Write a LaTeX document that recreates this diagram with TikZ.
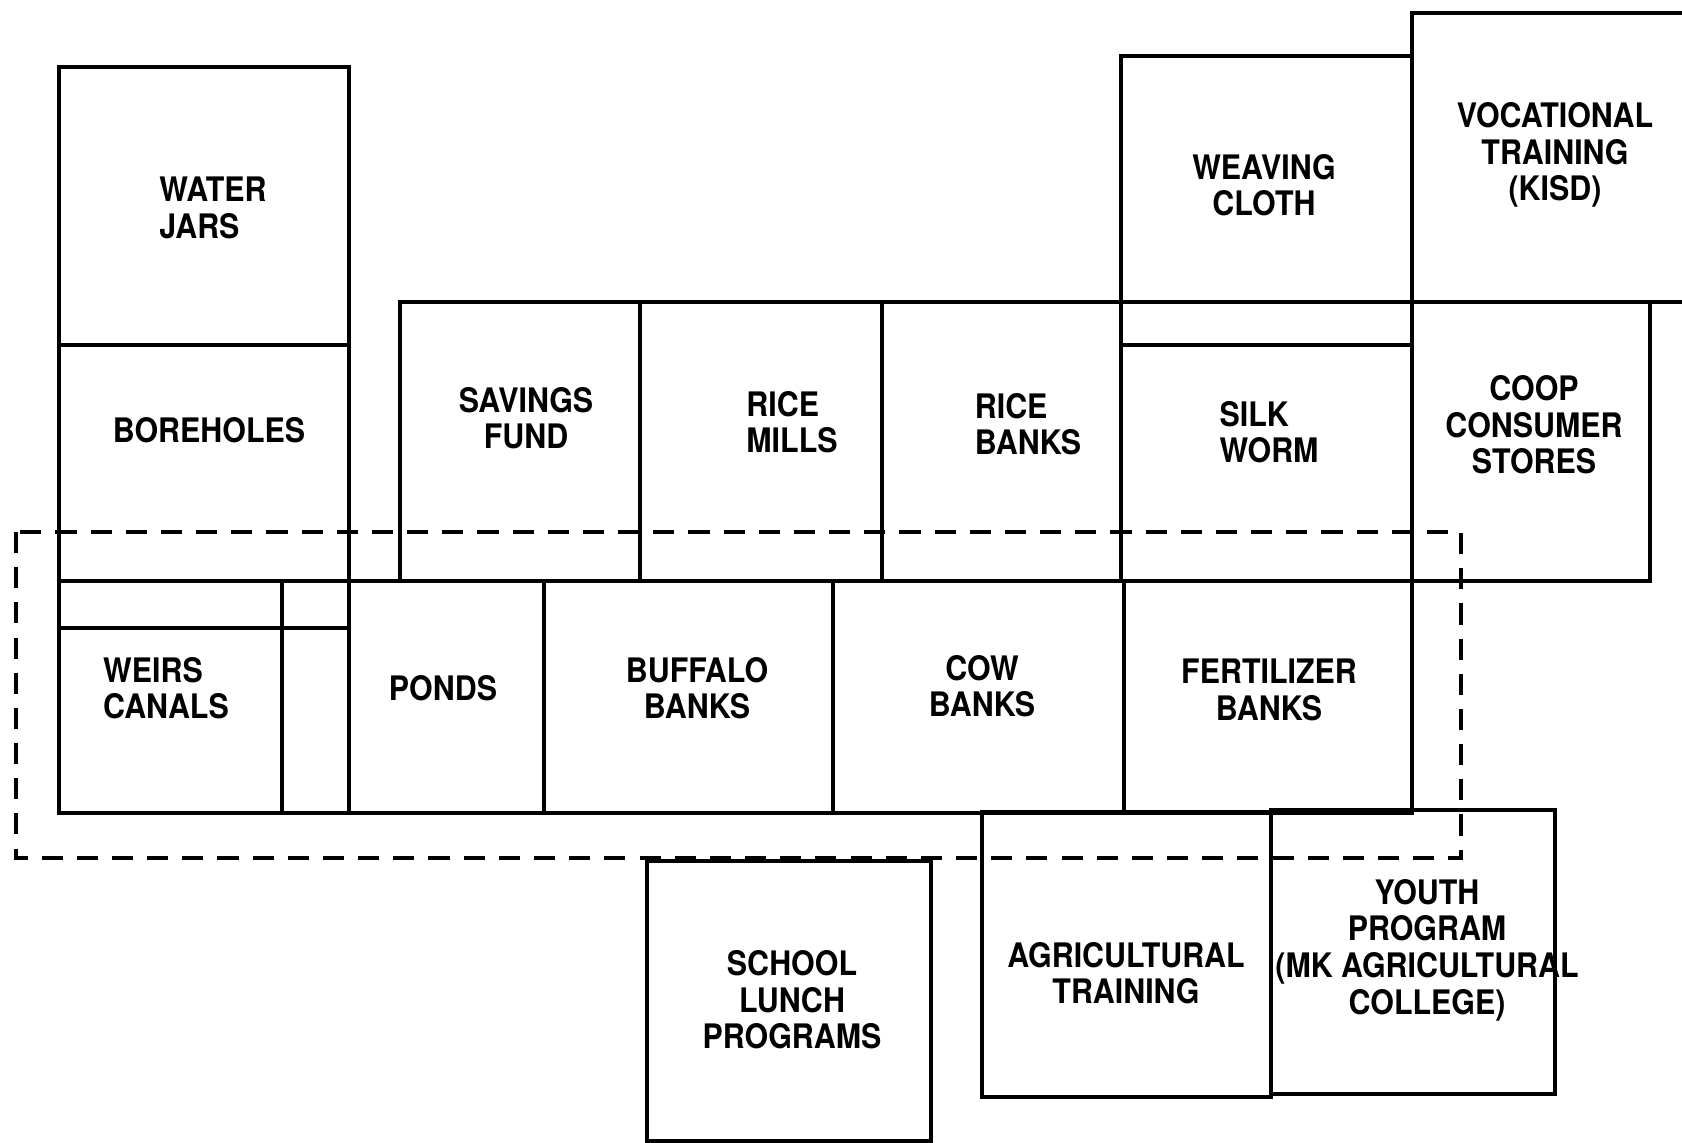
\documentclass[tikz,border=0pt]{standalone}
\usepackage{fontspec}
\setmainfont[FakeStretch=0.9]{TeX Gyre Heros}
\tikzset{every picture/.style={line width=0.9pt}}

\begin{document}
\begin{tikzpicture}[x=0.01cm, y=-0.01cm, every node/.style={font=\fontsize{9.6}{10.4}\selectfont\bfseries, align=center, inner sep=0pt}]
        \useasboundingbox (0,0) rectangle (1682,1142);
        % left column
        \draw (59,67) rectangle (349,345);
        \draw (59,345) rectangle (349,581);
        \draw (59,581) rectangle (349,813);
        \draw (59,628) -- (349,628);
        \draw (282,581) -- (282,813);
        % upper row
        \draw (400,302) rectangle (640,581);
        \draw (640,302) rectangle (882,581);
        \draw (882,302) rectangle (1121,581);
        \draw (1121,56) rectangle (1412,302);
        \draw (1121,302) rectangle (1412,581);
        \draw (1121,345) -- (1412,345);
        \draw (1682,13) -- (1412,13) -- (1412,302) -- (1682,302);
        \draw (1412,302) rectangle (1650,581);
        % lower row
        \draw (349,581) rectangle (544,813);
        \draw (544,581) rectangle (833,813);
        \draw (833,581) rectangle (1124,813);
        \draw (1124,581) rectangle (1412,813);
        % bottom boxes
        \draw (647,861) rectangle (931,1141);
        \draw (982,812) rectangle (1271,1097);
        \draw (1271,810) rectangle (1555,1094);
        % dashed outline
        \draw[dash pattern=on 6pt off 4pt] (16,532) rectangle (1461,858);
        % labels
        \node[align=left] (water) at (213,208) {WATER\\JARS};
        \node (bore) at (209,430) {BOREHOLES};
        \node[align=left] (weirs) at (166,688) {WEIRS\\CANALS};
        \node (ponds) at (443,688) {PONDS};
        \node (buffalo) at (697,688) {BUFFALO\\BANKS};
        \node (cow) at (982,686) {COW\\BANKS};
        \node (fert) at (1269,690) {FERTILIZER\\BANKS};
        \node (savings) at (526,418) {SAVINGS\\FUND};
        \node[align=left] (mills) at (792,422) {RICE\\MILLS};
        \node[align=left] (ricebk) at (1028,424) {RICE\\BANKS};
        \node[align=left] (silk) at (1269,432) {SILK\\WORM};
        \node (weaving) at (1264,185) {WEAVING\\CLOTH};
        \node (vocat) at (1555,155) {VOCATIONAL\\TRAINING\\(KISD)};
        \node (coop) at (1534,425) {COOP\\CONSUMER\\STORES};
        \node (school) at (792,1000) {SCHOOL\\LUNCH\\PROGRAMS};
        \node (agri) at (1126,973) {AGRICULTURAL\\TRAINING};
        \node (youth) at (1427,950) {YOUTH\\PROGRAM\\(MK AGRICULTURAL\\COLLEGE)};
\end{tikzpicture}
\end{document}
